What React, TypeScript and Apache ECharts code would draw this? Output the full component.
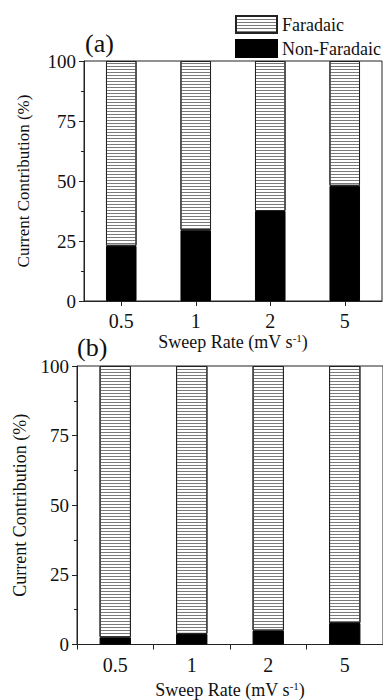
import React, { useEffect, useRef } from "react";
import * as echarts from "echarts";

const categories = ["0.5", "1", "2", "5"];
const nonFaradaicA = [23, 29.5, 37.5, 48];
const faradaicA = [77, 70.5, 62.5, 52];
const nonFaradaicB = [2.6, 3.8, 5.0, 7.7];
const faradaicB = [97.4, 96.2, 95.0, 92.3];
const legendNames = ["Faradaic", "Non-Faradaic"];
const panelLabels = ["(a)", "(b)"];
const yAxisTitle = "Current Contribution (%)";
const xAxisTitle = "Sweep Rate (mV s{sup|-1})";

const FONT = "Liberation Serif";
const INK = "#111";

const stripeStyle = {
  color: "#ffffff",
  borderColor: "#222",
  borderWidth: 1,
  decal: {
    symbol: "rect",
    symbolSize: 1,
    color: "#7a7a7a",
    dashArrayX: [4, 0],
    dashArrayY: [1, 2],
    rotation: 0,
  },
};
const solidStyle = { color: "#000000", borderColor: "#000", borderWidth: 1 };

function yAxis(gridIndex: number, nameGap: number, nameSize: number) {
  return {
    type: "value",
    gridIndex,
    min: 0,
    max: 100,
    interval: 25,
    name: yAxisTitle,
    nameLocation: "middle",
    nameGap,
    nameTextStyle: { fontFamily: FONT, fontSize: nameSize, color: INK },
    axisLine: { show: true, lineStyle: { color: "#222", width: 1 } },
    axisTick: { show: true, inside: false, length: 5, lineStyle: { color: "#222" } },
    minorTick: { show: true, splitNumber: 2, length: 3, lineStyle: { color: "#222" } },
    splitLine: { show: false },
    axisLabel: { fontFamily: FONT, fontSize: 19, color: INK, margin: 8 },
  };
}

function xAxis(gridIndex: number, nameGap: number, alignWithLabel: boolean) {
  return {
    type: "category",
    gridIndex,
    data: categories,
    name: xAxisTitle,
    nameLocation: "middle",
    nameGap,
    nameTextStyle: {
      fontFamily: FONT,
      fontSize: 18,
      color: INK,
      rich: {
        sup: { fontFamily: FONT, fontSize: 11, color: INK, verticalAlign: "top", padding: [0, 0, 8, 0] },
      },
    },
    axisLine: { show: true, lineStyle: { color: "#222", width: 1 } },
    axisTick: { show: true, alignWithLabel, length: 5, lineStyle: { color: "#222" } },
    axisLabel: { fontFamily: FONT, fontSize: 20, color: INK, margin: 10 },
  };
}

export default function App() {
  const ref = useRef<HTMLDivElement>(null);
  useEffect(() => {
    if (!ref.current) return;
    const chart = echarts.init(ref.current, null, { renderer: "svg" });
    chart.setOption({
      animation: false,
      backgroundColor: "#ffffff",
      legend: {
        data: legendNames,
        orient: "vertical",
        left: 235,
        top: 15,
        icon: "rect",
        itemWidth: 41,
        itemHeight: 17,
        itemGap: 5,
        padding: 0,
        selectedMode: false,
        textStyle: { fontFamily: FONT, fontSize: 18, color: INK },
      },
      graphic: [
        {
          type: "text",
          left: 85,
          top: 30,
          style: { text: panelLabels[0], font: `26px ${FONT}`, fill: INK },
        },
        {
          type: "text",
          left: 77,
          top: 334,
          style: { text: panelLabels[1], font: `26px ${FONT}`, fill: INK },
        },
      ],
      grid: [
        { left: 84, top: 61, width: 298, height: 240, show: true, borderColor: "#222", borderWidth: 1, backgroundColor: "transparent" },
        { left: 77, top: 366, width: 313, height: 282, show: true, borderColor: "#222", borderWidth: 1, backgroundColor: "transparent" },
      ],
      xAxis: [xAxis(0, 31, true), xAxis(1, 36, false)],
      yAxis: [yAxis(0, 52, 17), yAxis(1, 48, 18)],
      series: [
        { name: "Non-Faradaic", type: "bar", stack: "a", xAxisIndex: 0, yAxisIndex: 0, barWidth: "41%", data: nonFaradaicA, itemStyle: solidStyle },
        { name: "Faradaic", type: "bar", stack: "a", xAxisIndex: 0, yAxisIndex: 0, barWidth: "41%", data: faradaicA, itemStyle: stripeStyle },
        { name: "Non-Faradaic", type: "bar", stack: "b", xAxisIndex: 1, yAxisIndex: 1, barWidth: "41%", data: nonFaradaicB, itemStyle: solidStyle },
        { name: "Faradaic", type: "bar", stack: "b", xAxisIndex: 1, yAxisIndex: 1, barWidth: "41%", data: faradaicB, itemStyle: stripeStyle },
      ],
    });
    return () => chart.dispose();
  }, []);
  return (
    <div
      ref={ref}
      style={{ position: "absolute", left: 0, top: 0, width: 383, height: 700, background: "#fff" }}
    />
  );
}
